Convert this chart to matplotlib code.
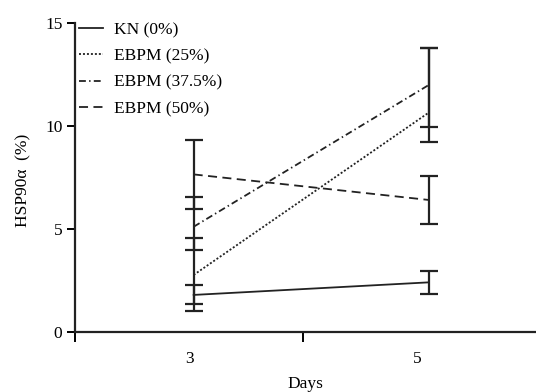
import matplotlib
matplotlib.use("Agg")
import matplotlib.pyplot as plt

days = ["3", "5"]
series = ["KN (0%)", "EBPM (25%)", "EBPM (37.5%)", "EBPM (50%)"]
means = {
    "KN (0%)":      [1.80, 2.41],
    "EBPM (25%)":   [2.77, 10.65],
    "EBPM (37.5%)": [5.11, 11.99],
    "EBPM (50%)":   [7.65, 6.41],
}
upper = {
    "KN (0%)":      [2.30, 2.98],
    "EBPM (25%)":   [4.58, 13.80],
    "EBPM (37.5%)": [6.54, 13.80],
    "EBPM (50%)":   [9.32, 7.59],
}
lower = {
    "KN (0%)":      [1.37, 1.84],
    "EBPM (25%)":   [1.03, 9.21],
    "EBPM (37.5%)": [3.98, 9.94],
    "EBPM (50%)":   [5.97, 5.26],
}
styles = {
    "KN (0%)": "-",
    "EBPM (25%)": (0, (1.1, 1.1)),
    "EBPM (37.5%)": (0, (3.8, 1.8, 0.8, 1.8)),
    "EBPM (50%)": (0, (5, 3)),
}
yticks = [0, 5, 10, 15]

plt.rcParams['font.family'] = ['Liberation Serif', 'DejaVu Serif']
W, H = 536, 392
fig = plt.figure(figsize=(W / 100, H / 100), dpi=100)
ax = fig.add_axes([75 / W, (392 - 332) / H, (536 - 75) / W, (332 - 23) / H])

xpos = [0.52, 1.55]
handles = []
for s in series:
    m = means[s]
    lo = [m[i] - lower[s][i] for i in range(2)]
    hi = [upper[s][i] - m[i] for i in range(2)]
    ax.errorbar(xpos, m, yerr=[lo, hi], fmt='none', ecolor='#222222',
                elinewidth=1.6, capsize=6.5, capthick=1.6, zorder=2)
    ln, = ax.plot(xpos, m, color='#222222', linestyle=styles[s], lw=1.3,
                  label=s, zorder=3)
    handles.append(ln)

ax.set_xlim(0, 2.02)
ax.set_ylim(0, 15)
ax.set_yticks(yticks)
ax.set_yticklabels([str(t) for t in yticks], fontsize=12.5)
ax.set_xticks([0, 1])
ax.set_xticklabels(["", ""])
ax.set_xticks([0.5, 1.5], minor=True)
ax.set_xticklabels(days, minor=True, fontsize=12.5)
ax.tick_params(axis='x', which='minor', length=0, pad=14)
ax.tick_params(axis='x', which='major', length=7, width=1.4, direction='out')
ax.tick_params(axis='y', length=6, width=1.4, direction='out', pad=3)

for side in ['top', 'right']:
    ax.spines[side].set_visible(False)
for side in ['left', 'bottom']:
    ax.spines[side].set_linewidth(1.6)
    ax.spines[side].set_color('#222222')

ax.set_xlabel("Days", fontsize=12.5, labelpad=6)
ax.set_ylabel("HSP90α  (%)", fontsize=12.5)
ax.yaxis.set_label_coords(-44 / (536 - 75), 0.49)

leg = ax.legend(handles=handles, loc='upper left', frameon=False,
                bbox_to_anchor=(79 / W, 1 - 22 / H), bbox_transform=fig.transFigure,
                fontsize=12.5, handlelength=1.4, handletextpad=0.6,
                labelspacing=0.585, borderaxespad=0, borderpad=0)

fig.savefig("out.png", dpi=100)
